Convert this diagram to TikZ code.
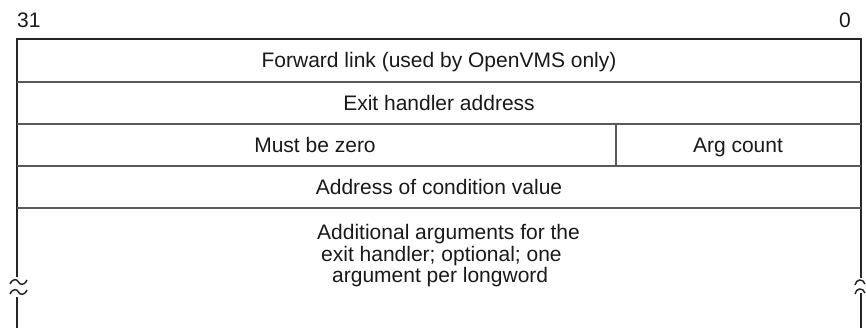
\documentclass[tikz,border=0pt]{standalone}
\usepackage{fontspec}
\setmainfont{Liberation Sans}
\begin{document}
\begin{tikzpicture}[x=1pt,y=-1pt,
  txt/.style={font=\fontsize{21}{21.5}\selectfont, inner sep=0pt, text=black!90},
  frame/.style={line width=1.6pt, draw=black!85},
  rowline/.style={line width=1.1pt, draw=black!65},
  breakmark/.style={line width=1.5pt, draw=black!85}]
\useasboundingbox (0,0) rectangle (866,328);
% bit labels
\node[txt, anchor=base west] (b31) at (17,28) {31};
\node[txt, anchor=base east] (b0) at (851,28) {0};
% frame
\draw[frame] (17,277) -- (17,39) -- (861,39) -- (861,278);
\draw[frame] (17,297) -- (17,330);
\draw[frame] (861,293) -- (861,330);
% row separators
\draw[rowline] (17,82) -- (861,82);
\draw[rowline] (17,124) -- (861,124);
\draw[rowline] (17,166) -- (861,166);
\draw[rowline] (17,208) -- (861,208);
\draw[rowline] (616,124) -- (616,166);
% break marks
\draw[breakmark] (10,284) .. controls (13,278) and (17,279) .. (18.5,282) .. controls (20,285) and (24,286) .. (27,280);
\draw[breakmark] (10,294) .. controls (13,288) and (17,289) .. (18.5,292) .. controls (20,295) and (24,296) .. (27,290);
\draw[breakmark] (855,285) .. controls (856,279) and (863,278) .. (865,284);
\draw[breakmark] (855,294) .. controls (856,288) and (863,287) .. (865,293);
% field texts
\node[txt, anchor=base] (fwd) at (439,68) {Forward link (used by OpenVMS only)};
\node[txt, anchor=base] (exit) at (439,110.5) {Exit handler address};
\node[txt, anchor=base] (mbz) at (315,152.5) {Must be zero};
\node[txt, anchor=base] (argc) at (738,152.5) {Arg count};
\node[txt, anchor=base] (cond) at (439,194.5) {Address of condition value};
\node[txt, anchor=north west, align=left] (add) at (317,224.5)
  {Additional arguments for the\\\hspace*{4pt}exit handler; optional; one\\\hspace*{15pt}argument per longword};
\end{tikzpicture}
\end{document}
